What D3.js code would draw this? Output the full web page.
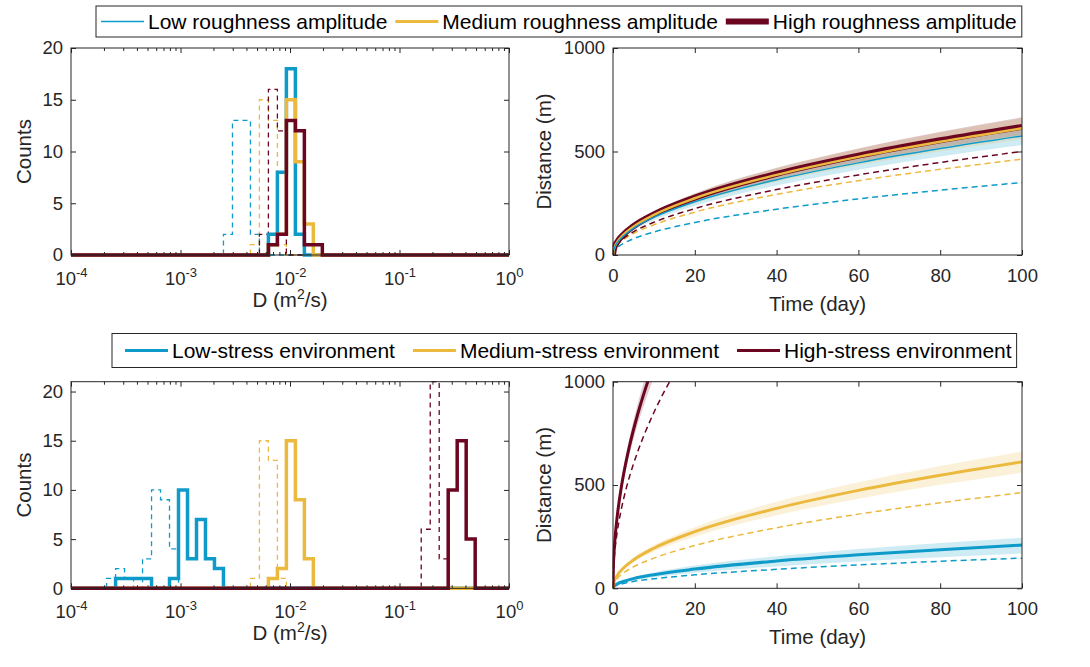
<!DOCTYPE html>
<html><head><meta charset="utf-8">
<script src="https://cdn.jsdelivr.net/npm/d3@7/dist/d3.min.js"></script>
<style>
body{margin:0;background:#fff;}
svg{display:block;font-family:"Liberation Sans",Arial,Helvetica,sans-serif;}
</style>
</head><body>
<svg id="chart" width="1090" height="667"></svg>
<script>
// ---------------- DATA ----------------
const logTickExponents = [-4, -3, -2, -1, 0];
const countTicks = [0, 5, 10, 15, 20];
const timeTicks = [0, 20, 40, 60, 80, 100];
const distanceTicks = [0, 500, 1000];

// Top-left histograms (roughness amplitude). Bin edges in D (m^2/s), counts per bin
const lowRoughDashedEdges  = [0.002468, 0.002982, 0.003602, 0.004351, 0.005257];
const lowRoughDashedCounts = [2, 13, 13, 2];
const medRoughDashedEdges  = [0.004351, 0.005257, 0.006351, 0.007672, 0.009268];
const medRoughDashedCounts = [1, 15, 13, 1];
const highRoughDashedEdges  = [0.005257, 0.006351, 0.007672, 0.009268];
const highRoughDashedCounts = [2, 16, 12];
const lowRoughSolidEdges  = [0.006351, 0.007672, 0.009268, 0.01120, 0.01353];
const lowRoughSolidCounts = [2, 8, 18, 2];
const medRoughSolidEdges  = [0.006351, 0.007672, 0.009268, 0.01120, 0.01353, 0.01634];
const medRoughSolidCounts = [1, 2, 15, 9, 3];
const highRoughSolidEdges  = [0.006351, 0.007672, 0.009268, 0.01120, 0.01353, 0.01634, 0.01974];
const highRoughSolidCounts = [1, 2, 13, 12, 1, 1];

// Bottom-left histograms (stress environment)
const lowStressDashedEdges  = [0.0002113, 0.0002554, 0.0003085, 0.0003727, 0.0004502, 0.0005439, 0.0006571, 0.0007937, 0.0009590];
const lowStressDashedCounts = [1, 2, 1, 0, 3, 10, 9, 4];
const lowStressSolidEdges  = [0.0002554, 0.0003085, 0.0003727, 0.0004502, 0.0005439, 0.0006571, 0.0007937, 0.0009590, 0.001159, 0.001400, 0.001691, 0.002043, 0.002468];
const lowStressSolidCounts = [1, 1, 1, 1, 0, 0, 1, 10, 3, 7, 3, 2];
const medStressDashedEdges  = [0.004351, 0.005257, 0.006351, 0.007672, 0.009268];
const medStressDashedCounts = [1, 15, 13, 1];
const medStressSolidEdges  = [0.006351, 0.007672, 0.009268, 0.01120, 0.01353, 0.01634];
const medStressSolidCounts = [1, 2, 15, 9, 3];
const highStressDashedEdges  = [0.1579, 0.1908, 0.2305, 0.2785];
const highStressDashedCounts = [6, 21, 3];
const highStressSolidEdges  = [0.2785, 0.3364, 0.4064, 0.4910];
const highStressSolidCounts = [10, 15, 5];

// Right panels: distance (m) vs time (day)
const timeDays = [0, 0.25, 1, 2.5, 5, 10, 20, 40, 60, 80, 100];
// top-right (roughness)
const highRoughDist  = [0, 31, 62, 98, 139, 196, 277, 392, 480, 554, 619];
const highRoughLower = [0, 29, 58, 92, 130, 183, 259, 367, 449, 519, 580];
const highRoughUpper = [0, 33, 67, 105, 149, 210, 297, 421, 515, 595, 665];
const medRoughDist   = [0, 31, 61, 97, 137, 194, 274, 387, 474, 547, 612];
const medRoughLower  = [0, 28, 56, 88, 125, 177, 250, 354, 434, 501, 560];
const medRoughUpper  = [0, 33, 66, 105, 148, 209, 296, 419, 513, 592, 662];
const lowRoughDist   = [0, 29, 58, 91, 129, 182, 257, 364, 445, 514, 575];
const lowRoughLower  = [0, 27, 53, 84, 119, 168, 238, 336, 412, 476, 532];
const lowRoughUpper  = [0, 30, 61, 96, 135, 191, 271, 383, 469, 541, 605];
const highRoughDashed = [0, 25, 50, 79, 112, 158, 224, 316, 387, 447, 500];
const medRoughDashed  = [0, 23, 46, 73, 104, 146, 207, 293, 359, 414, 463];
const lowRoughDashed  = [0, 18, 35, 55, 78, 111, 157, 221, 271, 313, 350];
// bottom-right (stress)
const lowStressDist   = [0, 10, 21, 33, 47, 66, 93, 132, 162, 187, 209];
const lowStressLower  = [0, 8, 17, 27, 38, 53, 75, 106, 130, 150, 168];
const lowStressUpper  = [0, 12, 25, 39, 55, 77, 110, 155, 190, 219, 245];
const lowStressDashed = [0, 7, 15, 23, 33, 46, 65, 92, 113, 131, 146];
const highStressTime   = [0, 0.1, 0.25, 0.5, 1, 2, 3, 4, 6, 8, 10, 15];
const highStressDist   = [0, 108, 172, 243, 343, 485, 594, 686, 840, 970, 1085, 1328];
const highStressLower  = [0, 102, 161, 228, 322, 456, 558, 645, 790, 912, 1020, 1248];
const highStressUpper  = [0, 114, 182, 258, 364, 514, 630, 727, 890, 1028, 1150, 1408];
const highStressDashed = [0, 85, 135, 190, 269, 380, 466, 538, 659, 761, 851, 1042];

const roughLegendLabels  = ["Low roughness amplitude", "Medium roughness amplitude", "High roughness amplitude"];
const stressLegendLabels = ["Low-stress environment", "Medium-stress environment", "High-stress environment"];

// ---------------- STYLE ----------------
const C_LOW = '#0f9bc9', C_MED = '#ecb93f', C_HIGH = '#6b0520';
const INK = '#262626';
const TICK_FS = 18.5, LABEL_FS = 20.5, LEGEND_FS = 21;
const svg = d3.select('#chart');

const L = {x0: 71, x1: 509};
const R = {x0: 613, x1: 1022};
const TOP = {y0: 48, y1: 255};
const BOT = {y0: 381.7, y1: 588.3};

let clipCount = 0;
function clip(x0, y0, x1, y1, pad) {
  const id = 'clip' + (clipCount++);
  svg.append('clipPath').attr('id', id).append('rect')
    .attr('x', x0 - pad).attr('y', y0 - pad).attr('width', x1 - x0 + 2 * pad).attr('height', y1 - y0 + 2 * pad);
  return id;
}

function frame(x0, y0, x1, y1) {
  svg.append('rect').attr('x', x0).attr('y', y0).attr('width', x1 - x0).attr('height', y1 - y0)
    .attr('fill', 'none').attr('stroke', INK).attr('stroke-width', 1);
}

function styleAxis(g) {
  g.select('.domain').remove();
  g.selectAll('.tick line').attr('stroke', INK);
  g.selectAll('.tick text').attr('fill', INK).attr('font-size', TICK_FS).attr('font-family', '"Liberation Sans",Arial,sans-serif');
}

function histPanel(P, V, ymax, series) {
  const x = d3.scaleLog().domain([1e-4, 1]).range([P.x0, P.x1]);
  const y = d3.scaleLinear().domain([0, ymax]).range([V.y1, V.y0]);
  const cid = clip(P.x0, V.y0, P.x1, V.y1, 2.5);
  const plot = svg.append('g').attr('clip-path', `url(#${cid})`);
  const line = d3.line().x(d => x(d[0])).y(d => y(d[1])).curve(d3.curveStepAfter);
  series.forEach(s => {
    const pts = [[1e-4, 0]];
    s.counts.forEach((c, i) => pts.push([s.edges[i], c]));
    pts.push([s.edges[s.edges.length - 1], 0]);
    pts.push([1, 0]);
    plot.append('path').attr('d', line(pts)).attr('fill', 'none')
      .attr('stroke', s.color).attr('stroke-width', s.width)
      .attr('stroke-dasharray', s.dash || null).attr('stroke-linejoin', 'miter');
  });
  const majors = logTickExponents.map(e => Math.pow(10, e));
  const minors = [];
  for (let e = -4; e < 0; e++) for (let m = 2; m <= 9; m++) minors.push(m * Math.pow(10, e));
  const gb = svg.append('g').attr('transform', `translate(0,${V.y1})`)
    .call(d3.axisBottom(x).tickValues(majors).tickSize(-5).tickPadding(0).tickFormat(() => ''));
  styleAxis(gb);
  gb.selectAll('.tick text').each(function (d) {
    const t = d3.select(this).attr('dy', null).attr('y', 30).attr('text-anchor', 'middle');
    t.text(null);
    t.append('tspan').text('10');
    t.append('tspan').attr('dy', -8).attr('font-size', 13).text(String(Math.round(Math.log10(d))));
  });
  const gbm = svg.append('g').attr('transform', `translate(0,${V.y1})`)
    .call(d3.axisBottom(x).tickValues(minors).tickSize(-3).tickFormat(() => ''));
  styleAxis(gbm);
  const gt = svg.append('g').attr('transform', `translate(0,${V.y0})`)
    .call(d3.axisTop(x).tickValues(majors).tickSize(-5).tickFormat(() => ''));
  styleAxis(gt);
  const gtm = svg.append('g').attr('transform', `translate(0,${V.y0})`)
    .call(d3.axisTop(x).tickValues(minors).tickSize(-3).tickFormat(() => ''));
  styleAxis(gtm);
  const gl = svg.append('g').attr('transform', `translate(${P.x0},0)`)
    .call(d3.axisLeft(y).tickValues(countTicks).tickSize(-5).tickPadding(8));
  styleAxis(gl);
  const gr = svg.append('g').attr('transform', `translate(${P.x1},0)`)
    .call(d3.axisRight(y).tickValues(countTicks).tickSize(-5).tickFormat(() => ''));
  styleAxis(gr);
  frame(P.x0, V.y0, P.x1, V.y1);
  svg.append('text').attr('transform', `translate(${P.x0 - 40},${(V.y0 + V.y1) / 2}) rotate(-90)`)
    .attr('text-anchor', 'middle').attr('font-size', LABEL_FS).attr('fill', INK).text('Counts');
  const xl = svg.append('text').attr('x', (P.x0 + P.x1) / 2).attr('y', V.y1 + 52)
    .attr('text-anchor', 'middle').attr('font-size', LABEL_FS).attr('fill', INK);
  xl.append('tspan').text('D (m');
  xl.append('tspan').attr('dy', -8).attr('font-size', 14).text('2');
  xl.append('tspan').attr('dy', 8).text('/s)');
}

function distPanel(P, V, bands, lines) {
  const x = d3.scaleLinear().domain([0, 100]).range([P.x0, P.x1]);
  const y = d3.scaleLinear().domain([0, 1000]).range([V.y1, V.y0]);
  const cid = clip(P.x0, V.y0, P.x1, V.y1, 0.5);
  const plot = svg.append('g').attr('clip-path', `url(#${cid})`);
  bands.forEach(b => {
    const area = d3.area().x((d, i) => x(b.t[i])).y0((d, i) => y(b.lo[i])).y1((d, i) => y(b.hi[i])).curve(d3.curveMonotoneX);
    plot.append('path').attr('d', area(b.t)).attr('fill', b.color).attr('fill-opacity', 0.2).attr('stroke', 'none');
  });
  lines.forEach(l => {
    const ln = d3.line().x((d, i) => x(l.t[i])).y((d, i) => y(l.v[i])).curve(d3.curveMonotoneX);
    plot.append('path').attr('d', ln(l.t)).attr('fill', 'none').attr('stroke', l.color)
      .attr('stroke-width', l.width).attr('stroke-dasharray', l.dash || null);
  });
  const gb = svg.append('g').attr('transform', `translate(0,${V.y1})`)
    .call(d3.axisBottom(x).tickValues(timeTicks).tickSize(-5).tickPadding(14));
  styleAxis(gb);
  const gt = svg.append('g').attr('transform', `translate(0,${V.y0})`)
    .call(d3.axisTop(x).tickValues(timeTicks).tickSize(-5).tickFormat(() => ''));
  styleAxis(gt);
  const gl = svg.append('g').attr('transform', `translate(${P.x0},0)`)
    .call(d3.axisLeft(y).tickValues(distanceTicks).tickSize(-5).tickPadding(8).tickFormat(d3.format('d')));
  styleAxis(gl);
  const gr = svg.append('g').attr('transform', `translate(${P.x1},0)`)
    .call(d3.axisRight(y).tickValues(distanceTicks).tickSize(-5).tickFormat(() => ''));
  styleAxis(gr);
  frame(P.x0, V.y0, P.x1, V.y1);
  svg.append('text').attr('transform', `translate(${P.x0 - 62},${(V.y0 + V.y1) / 2}) rotate(-90)`)
    .attr('text-anchor', 'middle').attr('font-size', LABEL_FS).attr('fill', INK).text('Distance (m)');
  svg.append('text').attr('x', (P.x0 + P.x1) / 2).attr('y', V.y1 + 56)
    .attr('text-anchor', 'middle').attr('font-size', LABEL_FS).attr('fill', INK).text('Time (day)');
}

function legend(left, cy, h, pad, gap, labels, colors, widths) {
  const g = svg.append('g');
  const box = g.append('rect');
  let x = left + pad;
  labels.forEach((lab, i) => {
    g.append('line').attr('x1', x).attr('x2', x + 43).attr('y1', cy).attr('y2', cy)
      .attr('stroke', colors[i]).attr('stroke-width', widths[i]);
    const t = g.append('text').attr('x', x + 47).attr('y', cy).attr('dy', '0.35em')
      .attr('font-size', LEGEND_FS).attr('fill', '#000').text(lab);
    x += 47 + t.node().getComputedTextLength() + gap;
  });
  box.attr('x', left).attr('y', cy - h / 2).attr('width', x - left - gap + 5).attr('height', h)
    .attr('fill', '#fff').attr('stroke', INK).attr('stroke-width', 1);
}

// ---------------- DRAW ----------------
histPanel(L, TOP, 20, [
  {edges: lowRoughDashedEdges, counts: lowRoughDashedCounts, color: C_LOW, width: 1.3, dash: '5,4'},
  {edges: medRoughDashedEdges, counts: medRoughDashedCounts, color: C_MED, width: 1.3, dash: '5,4'},
  {edges: highRoughDashedEdges, counts: highRoughDashedCounts, color: C_HIGH, width: 1.3, dash: '5,4'},
  {edges: lowRoughSolidEdges, counts: lowRoughSolidCounts, color: C_LOW, width: 3.5},
  {edges: medRoughSolidEdges, counts: medRoughSolidCounts, color: C_MED, width: 3.5},
  {edges: highRoughSolidEdges, counts: highRoughSolidCounts, color: C_HIGH, width: 3.5}
]);
histPanel(L, BOT, 21, [
  {edges: lowStressDashedEdges, counts: lowStressDashedCounts, color: C_LOW, width: 1.3, dash: '5,4'},
  {edges: medStressDashedEdges, counts: medStressDashedCounts, color: C_MED, width: 1.3, dash: '5,4'},
  {edges: highStressDashedEdges, counts: highStressDashedCounts, color: C_HIGH, width: 1.3, dash: '5,4'},
  {edges: lowStressSolidEdges, counts: lowStressSolidCounts, color: C_LOW, width: 3.5},
  {edges: medStressSolidEdges, counts: medStressSolidCounts, color: C_MED, width: 3.5},
  {edges: highStressSolidEdges, counts: highStressSolidCounts, color: C_HIGH, width: 3.5}
]);

distPanel(R, TOP, [
  {t: timeDays, lo: lowRoughLower, hi: lowRoughUpper, color: C_LOW},
  {t: timeDays, lo: medRoughLower, hi: medRoughUpper, color: C_MED},
  {t: timeDays, lo: highRoughLower, hi: highRoughUpper, color: C_HIGH}
], [
  {t: timeDays, v: lowRoughDashed, color: C_LOW, width: 1.5, dash: '6,4'},
  {t: timeDays, v: medRoughDashed, color: C_MED, width: 1.5, dash: '6,4'},
  {t: timeDays, v: highRoughDashed, color: C_HIGH, width: 1.5, dash: '6,4'},
  {t: timeDays, v: highRoughDist, color: C_HIGH, width: 6},
  {t: timeDays, v: medRoughDist, color: C_MED, width: 2.5},
  {t: timeDays, v: lowRoughDist, color: C_LOW, width: 1.5}
]);
distPanel(R, BOT, [
  {t: timeDays, lo: lowStressLower, hi: lowStressUpper, color: C_LOW},
  {t: timeDays, lo: medRoughLower, hi: medRoughUpper, color: C_MED},
  {t: highStressTime, lo: highStressLower, hi: highStressUpper, color: C_HIGH}
], [
  {t: timeDays, v: lowStressDashed, color: C_LOW, width: 1.5, dash: '6,4'},
  {t: timeDays, v: medRoughDashed, color: C_MED, width: 1.5, dash: '6,4'},
  {t: highStressTime, v: highStressDashed, color: C_HIGH, width: 1.5, dash: '6,4'},
  {t: timeDays, v: lowStressDist, color: C_LOW, width: 3},
  {t: timeDays, v: medRoughDist, color: C_MED, width: 3},
  {t: highStressTime, v: highStressDist, color: C_HIGH, width: 3}
]);

legend(96, 21.5, 31, 5, 8, roughLegendLabels, [C_LOW, C_MED, C_HIGH], [1.5, 3, 6]);
legend(112, 350.5, 34, 13, 18, stressLegendLabels, [C_LOW, C_MED, C_HIGH], [3, 3, 3]);
</script>
</body></html>
